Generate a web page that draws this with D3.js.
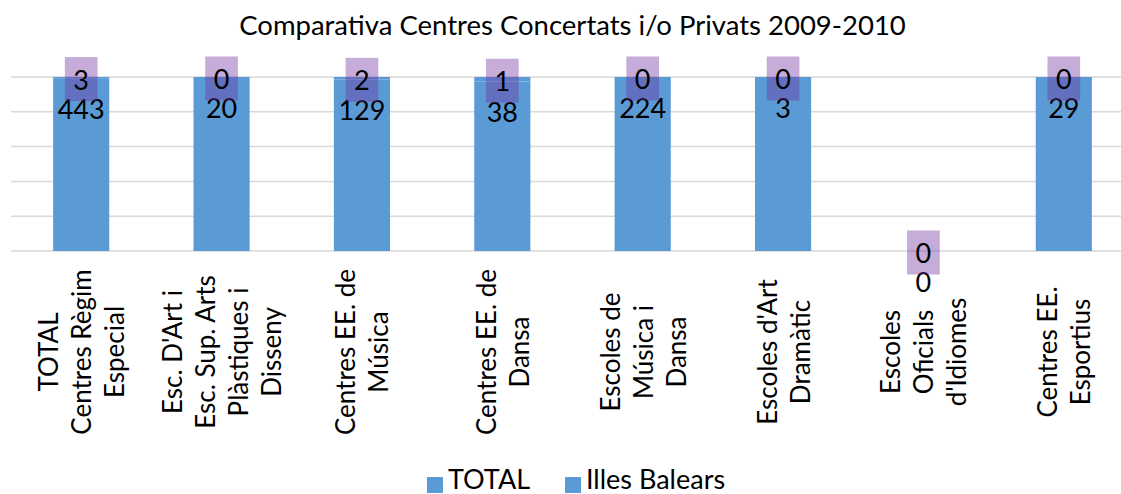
<!DOCTYPE html>
<html>
<head>
<meta charset="utf-8">
<script src="https://cdn.jsdelivr.net/npm/d3@7/dist/d3.min.js"></script>
<style>
  html, body { margin: 0; padding: 0; background: #fff; }
  svg { display: block; font-family: Lato, "Open Sans", sans-serif; }
</style>
</head>
<body>
<svg id="chart" width="1121" height="494"></svg>
<script>
const title = "Comparativa Centres Concertats i/o Privats 2009-2010";
const categories = [
  ["TOTAL", "Centres Règim", "Especial"],
  ["Esc. D'Art i", "Esc. Sup. Arts", "Plàstiques i", "Disseny"],
  ["Centres EE. de", "Música"],
  ["Centres EE. de", "Dansa"],
  ["Escoles de", "Música i", "Dansa"],
  ["Escoles d'Art", "Dramàtic"],
  ["Escoles", "Oficials", "d'Idiomes"],
  ["Centres EE.", "Esportius"]
];
const seriesNames = ["TOTAL", "Illes Balears"];
const totalValues = [443, 20, 129, 38, 224, 3, 0, 29];
const illesValues = [3, 0, 2, 1, 0, 0, 0, 0];
const yTicks = [0, 0.2, 0.4, 0.6, 0.8, 1.0];

const blue = "#5B9BD5";
const svg = d3.select("#chart");
const W = 1121, H = 494;
const plot = { left: 11, right: 1134, top: 77, bottom: 251 };

const rows = categories.map((c, i) => ({ key: i, TOTAL: totalValues[i], "Illes Balears": illesValues[i] }));
const stack = d3.stack().keys(seriesNames).offset(d3.stackOffsetExpand);
const stacked = stack(rows);

const x = d3.scaleBand().domain(d3.range(categories.length)).range([plot.left, plot.right]).paddingInner(0.6).paddingOuter(0.3);
const y = d3.scaleLinear().domain([0, 1]).range([plot.bottom, plot.top]);

// gridlines
svg.append("g").selectAll("line").data(yTicks).join("line")
  .attr("x1", plot.left).attr("x2", W)
  .attr("y1", d => y(d)).attr("y2", d => y(d))
  .attr("stroke", "#D9D9D9").attr("stroke-width", 1.5);

// bars
svg.append("g").selectAll("g").data(stacked).join("g")
  .attr("fill", blue)
  .selectAll("rect").data(d => d).join("rect")
  .attr("x", (d, i) => x(i))
  .attr("width", x.bandwidth())
  .attr("y", d => y(d[1]))
  .attr("height", d => Math.max(0, y(d[0]) - y(d[1])));

// TOTAL labels (inside end)
const labelSize = 27;
svg.append("g").selectAll("text").data(stacked[0]).join("text")
  .attr("x", (d, i) => x(i) + x.bandwidth() / 2)
  .attr("y", d => y(d[1]) + 30)
  .attr("text-anchor", "middle").attr("dominant-baseline", "central")
  .attr("font-size", labelSize).attr("fill", "#000")
  .text((d, i) => totalValues[i]);

// Illes Balears labels (centered, purple box)
const gl = svg.append("g");
stacked[1].forEach((d, i) => {
  const cx = x(i) + x.bandwidth() / 2;
  const cy = (y(d[0]) + y(d[1])) / 2 + 1.5;
  const g = gl.append("g");
  const rect = g.append("rect").attr("fill", "#7030A0").attr("fill-opacity", 0.4);
  const t = g.append("text").attr("x", cx).attr("y", cy)
    .attr("text-anchor", "middle").attr("dominant-baseline", "central")
    .attr("font-size", labelSize).attr("fill", "#000").text(illesValues[i]);
  const bb = t.node().getBBox();
  const bw = bb.width + 17, bh = 44;
  rect.attr("x", cx - bw / 2).attr("y", cy - bh / 2).attr("width", bw).attr("height", bh);
});

// category labels (rotated, multi-line)
const lineGap = 33;
const labelCenterY = 352;
svg.append("g").selectAll("text").data(categories).join("text")
  .attr("transform", (d, i) => `translate(${x(i) + x.bandwidth() / 2},${labelCenterY}) rotate(-90)`)
  .attr("text-anchor", "middle").attr("font-size", 26).attr("fill", "#000")
  .each(function(lines) {
    const n = lines.length;
    d3.select(this).selectAll("tspan").data(lines).join("tspan")
      .attr("x", 0)
      .attr("y", (l, k) => (k - (n - 1) / 2) * lineGap)
      .attr("dominant-baseline", "central")
      .text(l => l);
  });

// title
svg.append("text").attr("x", (plot.left + plot.right) / 2).attr("y", 35)
  .attr("text-anchor", "middle").attr("font-size", 27.5).attr("fill", "#000").text(title);

// legend
const legend = svg.append("g");
const legendX = [427, 565];
seriesNames.forEach((s, i) => {
  legend.append("rect").attr("x", legendX[i]).attr("y", 477).attr("width", 16).attr("height", 16).attr("fill", blue);
  legend.append("text").attr("x", legendX[i] + 21).attr("y", 489).attr("font-size", 27).attr("fill", "#000").text(s);
});
</script>
</body>
</html>
